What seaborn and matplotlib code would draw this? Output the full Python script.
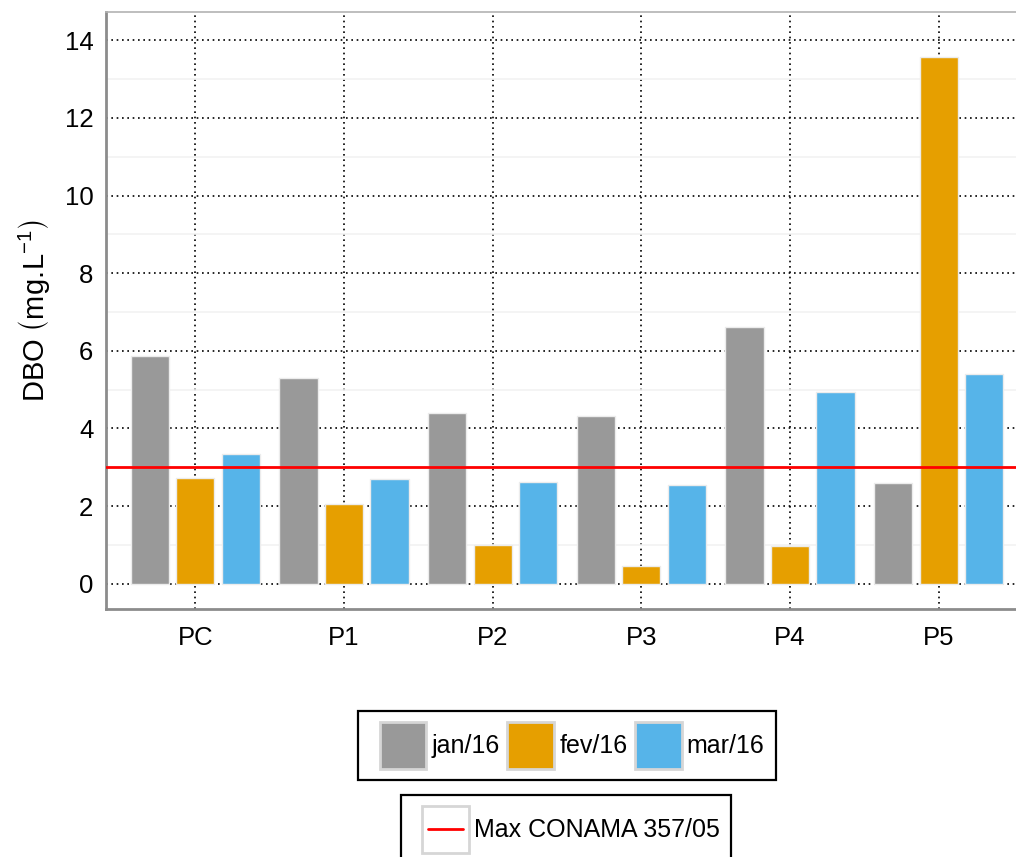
import matplotlib
matplotlib.use("Agg")
import matplotlib.pyplot as plt
from matplotlib.patches import Patch, Rectangle
from matplotlib.lines import Line2D
from matplotlib.legend_handler import HandlerBase
from matplotlib.ticker import MultipleLocator
import numpy as np
import pandas as pd
import seaborn as sns

sns.set_style("white")
plt.rcParams["font.family"] = ["Liberation Sans", "DejaVu Sans"]
plt.rcParams["mathtext.default"] = "regular"
plt.rcParams["text.color"] = "black"
plt.rcParams["axes.labelcolor"] = "black"

# data
points = ["PC", "P1", "P2", "P3", "P4", "P5"]
months = ["jan/16", "fev/16", "mar/16"]
jan = [5.87, 5.29, 4.39, 4.33, 6.62, 2.59]
fev = [2.72, 2.05, 0.99, 0.46, 0.97, 13.57]
mar = [3.35, 2.71, 2.61, 2.55, 4.94, 5.41]
limit_value = 3.0
limit_label = "Max CONAMA 357/05"
colors = ["#999999", "#E69F00", "#56B4E9"]

df = pd.DataFrame({
    "ponto": points * 3,
    "mes": np.repeat(months, len(points)),
    "dbo": jan + fev + mar,
})

fig = plt.figure(figsize=(10.16, 8.57), dpi=100)
ax = fig.add_axes([0.1043, 0.2894, 0.9075, 0.6966])

sns.barplot(data=df, x="ponto", y="dbo", hue="mes", order=points,
            hue_order=months, palette=colors, saturation=1, width=0.918, gap=0.16,
            edgecolor="#ececec", linewidth=1, legend=False, ax=ax, zorder=2)
ax.axhline(limit_value, color="red", lw=2, zorder=3)

ax.set_xlim(-0.6, 5.6)
ax.set_ylim(-0.65, 14.73)
ax.yaxis.set_major_locator(MultipleLocator(2))
ax.yaxis.set_minor_locator(MultipleLocator(1))

ax.set_axisbelow(True)
ax.grid(True, which="major", axis="both", color="black",
        linestyle=(0, (1, 2.2)), lw=1.2)
ax.grid(True, which="minor", axis="y", color="#f2f2f2", linestyle="-", lw=1.2)

for side in ["left", "bottom"]:
    ax.spines[side].set_color("#8c8c8c")
    ax.spines[side].set_linewidth(2)
ax.spines["top"].set_color("#b3b3b3")
ax.spines["top"].set_linewidth(1.2)
ax.spines["right"].set_visible(False)

ax.tick_params(axis="both", which="major", direction="out", length=5, width=1.5,
               color="black", labelsize=18.5, labelcolor="black")
ax.tick_params(axis="y", which="minor", length=0)
ax.tick_params(axis="y", pad=4)
ax.tick_params(axis="x", pad=7)
ax.set_xlabel("")
ax.set_ylabel(r"DBO$\;\left(mg.\!L^{-1}\right)$", fontsize=21, labelpad=9)


class KeyHandler(HandlerBase):
    # gray-bordered square key, like a ggplot legend key
    def create_artists(self, legend, orig_handle, xdescent, ydescent,
                       width, height, fontsize, trans):
        size = height
        x0 = -xdescent + width - size
        y0 = -ydescent
        face = orig_handle.get_facecolor() if isinstance(orig_handle, Patch) else "white"
        box = Rectangle((x0, y0), size, size, facecolor=face,
                        edgecolor="#d6d6d6", lw=2, transform=trans)
        artists = [box]
        if isinstance(orig_handle, Line2D):
            artists.append(Line2D([x0 + 0.12 * size, x0 + 0.88 * size],
                                  [y0 + size / 2] * 2, color="red", lw=2,
                                  transform=trans))
        return artists


hmap = {Patch: KeyHandler(), Line2D: KeyHandler()}
bar_handles = [Patch(facecolor=c) for c in colors]
leg_kw = dict(fontsize=18, frameon=True, fancybox=False, framealpha=1,
              edgecolor="black", handlelength=2.28, handleheight=2.5,
              handletextpad=0.2, borderpad=0.44, borderaxespad=0,
              handler_map=hmap)

leg1 = fig.legend(bar_handles, months, loc="upper center", ncol=3,
                  columnspacing=-0.1, bbox_to_anchor=(567 / 1016, 1 - 711 / 857),
                  **leg_kw)
leg1.get_frame().set_linewidth(1.6)
leg2 = fig.legend([Line2D([], [], color="red")], [limit_label], loc="upper center",
                  bbox_to_anchor=(566 / 1016, 1 - 795 / 857), **leg_kw)
leg2.get_frame().set_linewidth(1.6)

fig.savefig("out.png", dpi=100)
